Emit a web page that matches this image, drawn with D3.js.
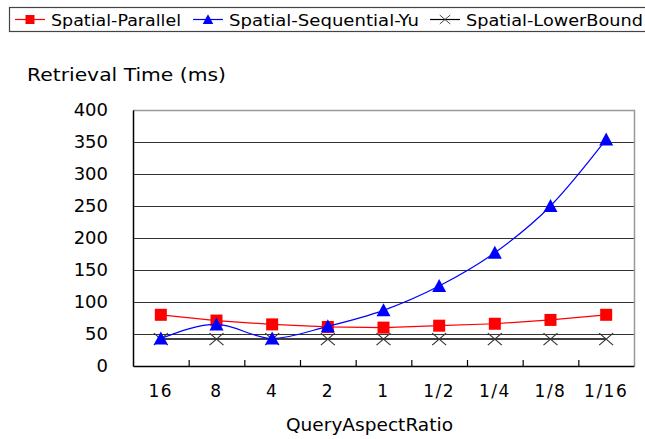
<!DOCTYPE html>
<html>
<head>
<meta charset="utf-8">
<script src="https://cdn.jsdelivr.net/npm/d3@7"></script>
<style>
  body { margin: 0; background: #fff; }
  text { font-family: "DejaVu Sans", sans-serif; fill: #000; }
</style>
</head>
<body>
<div id="chart"></div>
<script>
const categories = ['16', '8', '4', '2', '1', '1/2', '1/4', '1/8', '1/16'];
const parallel   = [80, 71, 65, 61, 60, 63, 66, 72, 80];
const yu         = [43, 65, 43, 62, 87, 125, 177, 250, 354];
const lower      = [42, 42, 42, 42, 42, 42, 42, 42, 42];
const yTicks     = [0, 50, 100, 150, 200, 250, 300, 350, 400];

const width = 645, height = 439;
const plot = {left: 133, right: 634, top: 110, bottom: 366};

const svg = d3.select('#chart').append('svg')
  .attr('width', width)
  .attr('height', height);

const x = d3.scaleBand().domain(categories).range([plot.left, plot.right]);
const y = d3.scaleLinear().domain([0, 400]).range([plot.bottom, plot.top]);
const cx = d => x(d) + x.bandwidth() / 2;

// 网格线
svg.append('g')
  .selectAll('line')
  .data(yTicks.filter(v => v > 0 && v < 400))
  .enter().append('line')
  .attr('x1', plot.left).attr('x2', plot.right)
  .attr('y1', d => y(d) + 0.5).attr('y2', d => y(d) + 0.5)
  .attr('stroke', '#333').attr('stroke-width', 1.2);

// 上 / 右边框
svg.append('path')
  .attr('d', `M${plot.left},${plot.top + 0.5}H${plot.right + 0.5}V${plot.bottom}`)
  .attr('fill', 'none').attr('stroke', '#999').attr('stroke-width', 1.5);

// y 轴
svg.append('g')
  .attr('transform', `translate(${plot.left},0)`)
  .call(d3.axisLeft(y).tickValues(yTicks).tickSize(0).tickPadding(25))
  .call(g => g.select('.domain').attr('stroke', '#000').attr('stroke-width', 1.5))
  .call(g => g.selectAll('text').style('font-size', '18px').style('font-family', '"DejaVu Sans", sans-serif'));

// x 轴 (刻度朝内)
svg.append('g')
  .attr('transform', `translate(0,${plot.bottom})`)
  .call(d3.axisBottom(x).tickSize(0).tickPadding(19))
  .call(g => g.select('.domain').attr('stroke', '#000').attr('stroke-width', 1.5))
  .call(g => g.selectAll('text')
    .style('font-size', '17px')
    .style('letter-spacing', '1.5px')
    .style('font-family', '"DejaVu Sans", sans-serif'));

svg.append('g')
  .selectAll('line')
  .data(categories.slice(1))
  .enter().append('line')
  .attr('x1', d => x(d) + 0.5).attr('x2', d => x(d) + 0.5)
  .attr('y1', plot.bottom).attr('y2', plot.bottom - 6)
  .attr('stroke', '#000').attr('stroke-width', 1.2);

// 轴标题
svg.append('text')
  .attr('x', 27).attr('y', 81)
  .attr('textLength', 199).attr('lengthAdjust', 'spacingAndGlyphs')
  .style('font-size', '18px')
  .text('Retrieval Time (ms)');

svg.append('text')
  .attr('x', 286).attr('y', 431)
  .attr('textLength', 167).attr('lengthAdjust', 'spacingAndGlyphs')
  .style('font-size', '18px')
  .text('QueryAspectRatio');

// 系列
const series = [
  {name: 'Spatial-Parallel', values: parallel, color: '#ff0000', marker: 'square', curve: d3.curveLinear},
  {name: 'Spatial-Sequential-Yu', values: yu, color: '#0000ff', marker: 'triangle', curve: d3.curveMonotoneX},
  {name: 'Spatial-LowerBound', values: lower, color: '#000', marker: 'cross', curve: d3.curveLinear}
];

function drawMarker(g, type, color) {
  if (type === 'square') {
    g.append('rect').attr('x', -6).attr('y', -6).attr('width', 12).attr('height', 12)
      .attr('fill', color);
  } else if (type === 'triangle') {
    g.append('path').attr('d', 'M0,-7L7,6H-7Z').attr('fill', color);
  } else {
    g.append('path').attr('d', 'M-7,-6L7,6M-7,6L7,-6')
      .attr('stroke', '#333').attr('stroke-width', 1.2).attr('fill', 'none');
  }
}

// 下界线先画，其他在上
[series[2], series[0], series[1]].forEach(s => {
  const line = d3.line()
    .x((d, i) => cx(categories[i]))
    .y(d => y(d))
    .curve(s.curve);
  svg.append('path')
    .datum(s.values)
    .attr('d', line)
    .attr('fill', 'none')
    .attr('stroke', s.color)
    .attr('stroke-width', s.marker === 'cross' ? 1.5 : 1.2);
  s.values.forEach((v, i) => {
    const g = svg.append('g').attr('transform', `translate(${cx(categories[i])},${y(v)})`);
    drawMarker(g, s.marker, s.color);
  });
});

// 图例
svg.append('rect')
  .attr('x', 9.5).attr('y', 7.5).attr('width', 640).attr('height', 24)
  .attr('fill', '#fff').attr('stroke', '#444').attr('stroke-width', 1.2);

const legendX = [15, 193, 430];
const legendW = [130, 190, 177];
series.forEach((s, i) => {
  const g = svg.append('g').attr('transform', `translate(${legendX[i]},19.5)`);
  g.append('line').attr('x1', 0).attr('x2', 30).attr('stroke', s.color).attr('stroke-width', 1.2);
  const m = g.append('g').attr('transform', 'translate(15,0) scale(0.75)');
  drawMarker(m, s.marker, s.color);
  g.append('text').attr('x', 36).attr('y', 6)
    .attr('textLength', legendW[i]).attr('lengthAdjust', 'spacingAndGlyphs')
    .style('font-size', '16.5px').text(s.name);
});
</script>
</body>
</html>
